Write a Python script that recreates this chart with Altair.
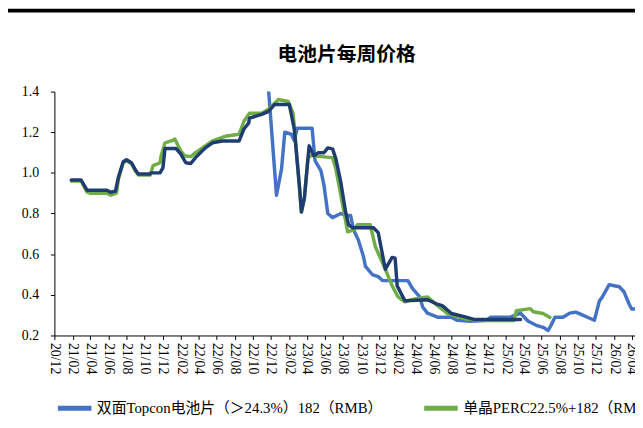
import altair as alt
import pandas as pd

SERIES = ["双面Topcon电池片（＞24.3%）182（RMB）", "单晶PERC22.5%+182（RMB）", "单晶PERC22.5%+210（RMB）"]
COLORS = ["#4472C4", "#70AD47", "#1F3D6E"]

TOPCON_DATES = ["2022-11-21", "2022-12-20", "2023-01-06", "2023-01-17", "2023-02-08", "2023-02-18", "2023-02-28",
                "2023-04-19", "2023-04-29", "2023-05-19", "2023-05-29", "2023-06-11", "2023-06-27", "2023-07-25",
                "2023-08-17", "2023-08-27", "2023-09-06", "2023-09-22", "2023-10-09", "2023-10-16", "2023-11-08",
                "2023-11-28", "2023-12-12", "2024-03-07", "2024-03-23", "2024-04-16", "2024-04-26", "2024-05-12",
                "2024-06-15", "2024-07-31", "2024-08-20", "2024-10-06", "2024-11-28", "2024-12-12", "2025-02-16",
                "2025-03-05", "2025-03-22", "2025-04-07", "2025-04-17", "2025-05-14", "2025-06-06", "2025-06-23",
                "2025-07-03", "2025-07-16", "2025-08-12", "2025-09-04", "2025-09-24", "2025-10-18", "2025-11-10",
                "2025-11-26", "2025-12-13", "2025-12-23", "2026-01-15", "2026-02-01", "2026-02-18", "2026-03-06",
                "2026-03-23", "2026-04-01", "2026-04-18"]
TOPCON_VALUES = [1.45, 0.89, 1.02, 1.20, 1.19, 1.16, 1.22,
                 1.22, 1.06, 1.01, 0.94, 0.80, 0.78, 0.80,
                 0.79, 0.79, 0.72, 0.67, 0.59, 0.54, 0.50,
                 0.49, 0.47, 0.47, 0.43, 0.39, 0.34, 0.31,
                 0.29, 0.29, 0.275, 0.27, 0.275, 0.29, 0.29,
                 0.30, 0.31, 0.285, 0.27, 0.25, 0.24, 0.225,
                 0.25, 0.29, 0.29, 0.31, 0.315, 0.30, 0.285,
                 0.275, 0.37, 0.39, 0.45, 0.445, 0.44, 0.415,
                 0.355, 0.33, 0.33]

PERC182_DATES = ["2021-01-27", "2021-03-01", "2021-03-21", "2021-04-03", "2021-05-27", "2021-06-09", "2021-06-28",
                 "2021-07-05", "2021-07-21", "2021-08-01", "2021-08-18", "2021-08-31", "2021-09-10", "2021-10-20",
                 "2021-10-30", "2021-11-22", "2021-11-26", "2021-12-09", "2022-01-04", "2022-01-11", "2022-01-31",
                 "2022-02-13", "2022-03-06", "2022-03-22", "2022-05-18", "2022-06-30", "2022-08-16", "2022-09-01",
                 "2022-09-20", "2022-10-31", "2022-11-23", "2022-12-20", "2022-12-26", "2023-01-29", "2023-02-14",
                 "2023-03-07", "2023-03-14", "2023-03-24", "2023-04-05", "2023-04-13", "2023-06-27", "2023-07-08",
                 "2023-07-25", "2023-08-17", "2023-09-06", "2023-09-19", "2023-11-01", "2023-11-18", "2023-12-22",
                 "2024-01-14", "2024-02-03", "2024-02-26", "2024-03-30", "2024-05-12", "2024-06-15", "2024-07-18",
                 "2024-09-13", "2024-10-26", "2025-02-28", "2025-03-08", "2025-04-24", "2025-05-04", "2025-06-06",
                 "2025-06-29"]
PERC182_VALUES = [0.96, 0.96, 0.905, 0.90, 0.90, 0.89, 0.90,
                  0.97, 1.05, 1.06, 1.045, 1.01, 0.99, 0.99,
                  1.036, 1.05, 1.084, 1.148, 1.16, 1.167, 1.109,
                  1.084, 1.08, 1.10, 1.157, 1.18, 1.19, 1.254,
                  1.293, 1.293, 1.313, 1.351, 1.361, 1.351, 1.293,
                  0.939, 0.808, 0.876, 1.07, 1.085, 1.075, 1.021,
                  0.89, 0.71, 0.72, 0.745, 0.745, 0.638, 0.526,
                  0.444, 0.39, 0.366, 0.38, 0.39, 0.347, 0.308,
                  0.283, 0.274, 0.274, 0.322, 0.332, 0.317, 0.308,
                  0.289]

PERC210_DATES = ["2021-01-27", "2021-03-01", "2021-03-21", "2021-04-03", "2021-05-27", "2021-06-09", "2021-06-25",
                 "2021-07-05", "2021-07-21", "2021-08-01", "2021-08-18", "2021-08-31", "2021-09-10", "2021-10-20",
                 "2021-10-23", "2021-11-22", "2021-12-02", "2021-12-09", "2022-01-15", "2022-01-31", "2022-02-17",
                 "2022-03-06", "2022-03-22", "2022-04-08", "2022-04-24", "2022-05-18", "2022-06-20", "2022-08-16",
                 "2022-09-01", "2022-09-17", "2022-09-20", "2022-10-31", "2022-11-23", "2022-12-14", "2023-02-01",
                 "2023-02-18", "2023-03-07", "2023-03-14", "2023-03-24", "2023-04-05", "2023-04-09", "2023-04-25",
                 "2023-05-09", "2023-05-29", "2023-06-11", "2023-06-27", "2023-07-08", "2023-07-25", "2023-08-10",
                 "2023-08-20", "2023-09-02", "2023-11-12", "2023-11-28", "2023-12-22", "2024-01-14", "2024-01-24",
                 "2024-01-31", "2024-02-26", "2024-05-12", "2024-06-11", "2024-07-01", "2024-08-01", "2024-09-13",
                 "2024-10-16", "2025-03-22"]
PERC210_VALUES = [0.965, 0.965, 0.915, 0.915, 0.915, 0.905, 0.91,
                  0.98, 1.055, 1.065, 1.05, 1.015, 0.995, 0.995,
                  1.00, 1.00, 1.025, 1.12, 1.12, 1.094, 1.05,
                  1.046, 1.075, 1.10, 1.123, 1.148, 1.157, 1.157,
                  1.216, 1.245, 1.269, 1.288, 1.303, 1.337, 1.337,
                  1.216, 0.939, 0.808, 0.876, 1.07, 1.133, 1.084,
                  1.099, 1.099, 1.123, 1.118, 1.07, 0.953, 0.808,
                  0.745, 0.73, 0.73, 0.706, 0.526, 0.584, 0.58,
                  0.444, 0.371, 0.376, 0.356, 0.347, 0.308, 0.293,
                  0.279, 0.279]

TICK_MONTHS = ["2020-12", "2021-02", "2021-04", "2021-06", "2021-08", "2021-10", "2021-12",
               "2022-02", "2022-04", "2022-06", "2022-08", "2022-10", "2022-12",
               "2023-02", "2023-04", "2023-06", "2023-08", "2023-10", "2023-12",
               "2024-02", "2024-04", "2024-06", "2024-08", "2024-10", "2024-12",
               "2025-02", "2025-04", "2025-06", "2025-08", "2025-10", "2025-12",
               "2026-02", "2026-04"]
Y_TICKS = [0.2, 0.4, 0.6, 0.8, 1.0, 1.2, 1.4]
X_START = (2020, 12, 1)
X_END = (2026, 4, 12)

rows = []
for name, dates, values in [(SERIES[0], TOPCON_DATES, TOPCON_VALUES),
                            (SERIES[1], PERC182_DATES, PERC182_VALUES),
                            (SERIES[2], PERC210_DATES, PERC210_VALUES)]:
    for d, v in zip(dates, values):
        rows.append({"date": d, "value": v, "series": name})
df = pd.DataFrame(rows)


def dt(y, m, d=1):
    return alt.DateTime(year=y, month=m, date=d, utc=True)


tick_values = [dt(int(s[:4]), int(s[5:7])) for s in TICK_MONTHS]

SERIF = "Liberation Serif, Noto Sans CJK SC"
PLOT_W = 588
PLOT_H = 247

x_enc = alt.X(
    "date:T",
    scale=alt.Scale(type="utc", domain=[dt(*X_START), dt(*X_END)]),
    axis=alt.Axis(values=tick_values, labelExpr="utcFormat(datum.value, '%y/%m')", labelAngle=90,
                  labelAlign="left", labelBaseline="middle", labelFont=SERIF, labelFontSize=14,
                  labelColor="black", tickColor="black", domainColor="black", tickSize=4,
                  labelPadding=3, title=None, grid=False, labelOverlap=False, labelFlush=False),
)
y_enc = alt.Y(
    "value:Q",
    scale=alt.Scale(domain=[0.2, 1.4], nice=False, zero=False),
    axis=alt.Axis(values=Y_TICKS, format=".1f", labelFont=SERIF, labelFontSize=14,
                  labelColor="black", tickColor="black", domainColor="black", tickSize=4,
                  labelPadding=12, title=None, grid=False),
)
color_enc = alt.Color(
    "series:N",
    scale=alt.Scale(domain=SERIES, range=COLORS),
    legend=alt.Legend(title=None, orient="none", legendX=1, legendY=301, direction="horizontal",
                      symbolType="stroke", symbolSize=1156, symbolStrokeWidth=5,
                      labelFont=SERIF, labelFontSize=15, labelColor="black", labelLimit=600,
                      labelOffset=3, columnPadding=31),
)

base = alt.Chart(df).mark_line(strokeWidth=3.5, clip=True, strokeJoin="round", strokeCap="round").encode(
    x=x_enc, y=y_enc, color=color_enc
)
lines = [base.transform_filter(alt.datum.series == s) for s in SERIES]

top_bar = alt.Chart(pd.DataFrame({"k": [0]})).mark_rule(color="black", strokeWidth=4).encode(
    x=alt.value(-60), x2=alt.value(PLOT_W + 20), y=alt.value(-82)
)

chart = alt.layer(*lines, top_bar).properties(
    width=PLOT_W,
    height=PLOT_H,
    title=alt.Title("电池片每周价格", font="Noto Sans CJK SC", fontSize=20, fontWeight="bold",
                    color="black", anchor="middle", frame="group", offset=0, dx=2, dy=57),
    autosize=alt.AutoSizeParams(type="none"),
    padding={"left": 47, "top": 82, "right": 0, "bottom": 88},
    background="white",
).configure_view(strokeWidth=0)

chart.save("out.html", embed_options={"renderer": "svg", "actions": False})
